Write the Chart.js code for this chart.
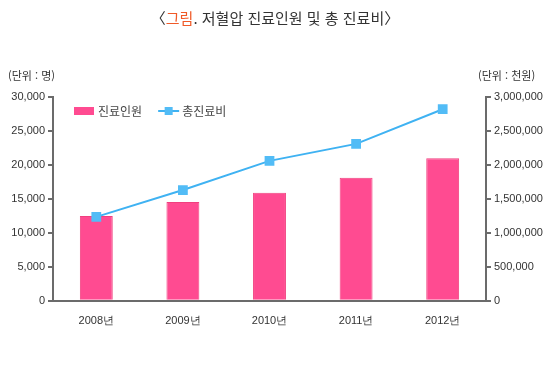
<!DOCTYPE html>
<html lang="ko">
<head>
<meta charset="UTF-8">
<title>저혈압 진료인원 및 총 진료비</title>
<script src="https://cdn.jsdelivr.net/npm/chart.js"></script>
<style>
    body { margin: 0; background: #fff; font-family: "Noto Sans CJK KR", "Noto Sans", sans-serif; }
    .wrap { position: relative; width: 550px; height: 369px; }
    .title { position: absolute; top: 7px; left: 0; width: 550px; text-align: center; font-size: 15px; color: #333; }
    .title span { color: #f05a28; }
    .unit { position: absolute; top: 67px; font-size: 11px; color: #333; }
    canvas { position: absolute; left: 0; top: 0; }
</style>
</head>
<body>
<div class="wrap">
    <canvas id="chart" width="550" height="369"></canvas>
    <div class="title">〈<span>그림</span>. 저혈압 진료인원 및 총 진료비〉</div>
    <div class="unit" style="left:8px">(단위 : 명)</div>
    <div class="unit" style="left:478px">(단위 : 천원)</div>
</div>
<script>
    const years = ['2008년', '2009년', '2010년', '2011년', '2012년'];
    const patients = [12500, 14550, 15900, 18100, 21000];       // 진료인원 (명)
    const costs = [1235000, 1630000, 2060000, 2310000, 2820000]; // 총진료비 (천원)

    const gray = '#6b6b6b';
    const pink = '#ff4b91';
    const blue = '#3fb2f2';

    // legend drawn inside the plot area, top-left
    const innerLegend = {
        id: 'innerLegend',
        afterDraw(chart) {
            const g = chart.ctx;
            const a = chart.chartArea;
            const y = a.top + 14;
            let x = a.left + 21;
            g.save();
            g.font = '12px "Noto Sans CJK KR", sans-serif';
            g.textBaseline = 'middle';
            chart.data.datasets.forEach((ds) => {
                if (ds.type === 'line') {
                    g.strokeStyle = ds.borderColor;
                    g.lineWidth = 2;
                    g.beginPath(); g.moveTo(x, y); g.lineTo(x + 21, y); g.stroke();
                    g.fillStyle = ds.pointBackgroundColor;
                    g.fillRect(x + 6.5, y - 4, 8, 8);
                } else {
                    g.fillStyle = ds.backgroundColor;
                    g.fillRect(x, y - 4, 20, 8);
                }
                x += 24;
                g.fillStyle = '#444';
                g.fillText(ds.label, x, y);
                x += g.measureText(ds.label).width + 16;
            });
            g.restore();
        }
    };

    const ctx = document.getElementById('chart').getContext('2d');
    new Chart(ctx, {
        type: 'bar',
        data: {
            labels: years,
            datasets: [{
                label: '진료인원',
                data: patients,
                backgroundColor: pink,
                borderColor: '#f0407f',
                borderWidth: 1,
                barPercentage: 0.38,
                categoryPercentage: 1,
                yAxisID: 'y',
                order: 1
            }, {
                type: 'line',
                label: '총진료비',
                data: costs,
                borderColor: blue,
                borderWidth: 2,
                pointStyle: 'rect',
                pointRadius: 5.5,
                pointBackgroundColor: '#52bcf6',
                pointBorderColor: '#52bcf6',
                tension: 0,
                yAxisID: 'y1',
                order: 0
            }]
        },
        options: {
            responsive: false,
            animation: false,
            layout: { padding: { top: 97, bottom: 27 } },
            plugins: {
                legend: { display: false },
                tooltip: { enabled: false }
            },
            scales: {
                x: {
                    grid: { display: false, drawTicks: false },
                    border: { color: gray, width: 2 },
                    ticks: { color: '#333', padding: 14, font: { size: 11, family: 'Liberation Sans, sans-serif' } }
                },
                y: {
                    position: 'left',
                    min: 0, max: 30000,
                    afterFit: (s) => { s.width = 53; },
                    grid: { drawOnChartArea: false, color: gray, lineWidth: 2, tickLength: 5 },
                    border: { color: gray, width: 2 },
                    ticks: {
                        stepSize: 5000, color: '#333', padding: 3,
                        font: { size: 11, family: 'Liberation Sans, sans-serif' },
                        callback: (v) => v.toLocaleString('en-US')
                    }
                },
                y1: {
                    position: 'right',
                    min: 0, max: 3000000,
                    afterFit: (s) => { s.width = 64; },
                    grid: { drawOnChartArea: false, color: gray, lineWidth: 2, tickLength: 5 },
                    border: { color: gray, width: 2 },
                    ticks: {
                        stepSize: 500000, color: '#333', padding: 3,
                        font: { size: 11, family: 'Liberation Sans, sans-serif' },
                        callback: (v) => v.toLocaleString('en-US')
                    }
                }
            }
        },
        plugins: [innerLegend]
    });
</script>
</body>
</html>
